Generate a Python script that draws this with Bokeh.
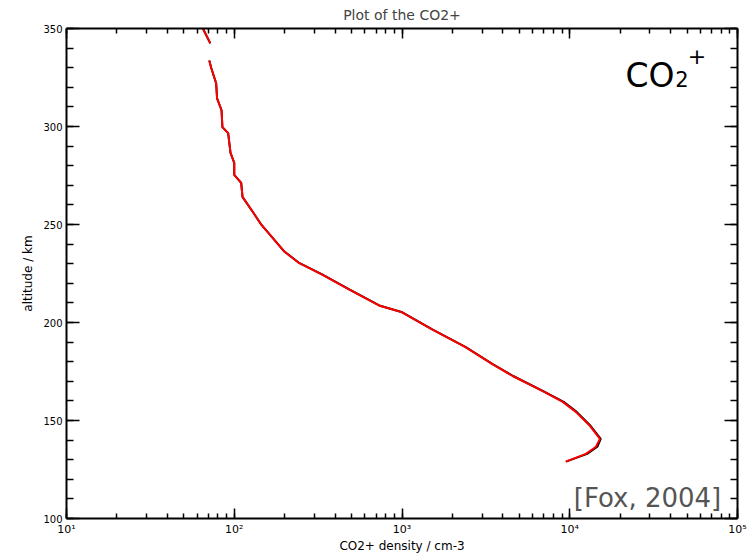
import numpy as np
from bokeh.plotting import figure
from bokeh.models import (Range1d, LogAxis, LinearAxis, SingleIntervalTicker,
                          LogTicker, CustomJSTickFormatter, Label, ColumnDataSource)
from bokeh.embed import file_html
from bokeh.resources import INLINE

nan = float("nan")

# altitude (km) and CO2+ density (cm^-3)
altitude = [350, 342.4, nan, 333.7, 329.7, 322.1, 314.4, 308.3, 299.7, 296.6,
            286.5, 281.4, 275.3, 271.2, 264.1, 256.0, 249.9, 236.2, 230.6, 224.5,
            216.9, 208.7, 205.2, 196.5, 187.4, 178.8, 172.7, 165.0, 159.5, 154.4,
            147.3, 140.6, 136.6, 133.0, 129.0]
density_red = [65, 72, nan, 71, 73, 78, 79, 84, 85, 92,
               95, 100, 100, 110, 112, 130, 145, 199, 241, 332,
               482, 728, 1000, 1510, 2390, 3460, 4560, 6890, 9080, 10860,
               13180, 15130, 14330, 12480, 9460]
density_black = [65, 72, nan, 71, 73, 78, 79, 84, 85, 92,
                 95, 100, 100, 110, 112, 130, 145, 199, 242, 334,
                 485, 732, 1005, 1515, 2400, 3470, 4600, 6950, 9200, 11000,
                 13300, 15300, 14600, 12700, 9500]

x_ticks = [10, 100, 1000, 10000, 100000]
y_ticks = [100, 150, 200, 250, 300, 350]

title_text = "Plot of the CO2+"
x_label = "CO2+ density / cm-3"
y_label = "altitude / km"

FONT = "DejaVu Sans"

p = figure(width=755, height=555, x_axis_type="log",
           x_range=Range1d(10, 1e5), y_range=Range1d(100, 350),
           output_backend="svg", toolbar_location=None,
           min_border_left=66, min_border_right=18,
           min_border_top=28, min_border_bottom=35,
           title=title_text, x_axis_label=x_label, y_axis_label=y_label)

p.title.align = "center"
p.title.vertical_align = "top"
p.title.text_font = FONT
p.title.text_font_size = "14px"
p.title.text_font_style = "normal"
p.title.offset = 0
p.title.standoff = 8

p.xgrid.visible = False
p.ygrid.visible = False
p.outline_line_color = None
p.background_fill_color = "white"
p.border_fill_color = "white"

sup = "const s={'0':'\u2070','1':'\u00b9','2':'\u00b2','3':'\u00b3','4':'\u2074','5':'\u2075','6':'\u2076','7':'\u2077','8':'\u2078','9':'\u2079','-':'\u207b'};"
fmt = CustomJSTickFormatter(code=sup + "const e=Math.round(Math.log10(tick)); return '10'+String(e).split('').map(c=>s[c]).join('');")

xt = LogTicker(desired_num_ticks=5, num_minor_ticks=10)
yt = SingleIntervalTicker(interval=50, num_minor_ticks=5)

def style(ax, tick_in, minor_in):
    ax.axis_line_color = "black"
    ax.axis_line_width = 2
    ax.major_tick_line_color = "black"
    ax.major_tick_line_width = 1.5
    ax.minor_tick_line_color = "black"
    ax.minor_tick_line_width = 1.5
    ax.major_tick_in = tick_in
    ax.major_tick_out = 0
    ax.minor_tick_in = minor_in
    ax.minor_tick_out = 0
    ax.major_label_text_font = FONT
    ax.major_label_text_font_size = "10px"
    ax.major_label_text_color = "black"
    ax.axis_label_text_font = FONT
    ax.axis_label_text_font_size = "12px"
    ax.axis_label_text_font_style = "normal"
    ax.axis_label_text_color = "black"

xa = p.xaxis[0]
xa.ticker = xt
xa.formatter = fmt
style(xa, 10, 5)
xa.major_label_text_font_size = "11px"
xa.major_label_standoff = 4
xa.axis_label_standoff = 0

ya = p.yaxis[0]
ya.ticker = yt
style(ya, 13, 7)
ya.major_label_standoff = 4
ya.axis_label_standoff = 5

top = LogAxis(ticker=LogTicker(desired_num_ticks=5, num_minor_ticks=10))
style(top, 10, 5)
top.major_label_text_font_size = "2px"
top.major_label_text_alpha = 0
top.major_label_standoff = 0
p.add_layout(top, "above")

right = LinearAxis(ticker=SingleIntervalTicker(interval=50, num_minor_ticks=5))
style(right, 13, 7)
right.major_label_text_font_size = "2px"
right.major_label_text_alpha = 0
right.major_label_standoff = 0
p.add_layout(right, "right")

src = ColumnDataSource(dict(alt=altitude, red=density_red, black=density_black))
p.line("black", "alt", source=src, line_color="black", line_width=2)
p.line("red", "alt", source=src, line_color="#ff0000", line_width=2)

# annotations
p.add_layout(Label(x=21500, y=326.0, text="CO", text_font=FONT, text_font_size="33px",
                   text_color="black", text_baseline="alphabetic"))
p.add_layout(Label(x=42500, y=324.0, text="2", text_font=FONT, text_font_size="21px",
                   text_color="black", text_baseline="alphabetic"))
p.add_layout(Label(x=50500, y=336.0, text="+", text_font=FONT, text_font_size="22px",
                   text_color="black", text_baseline="alphabetic"))
p.add_layout(Label(x=80000, y=110.5, text="[Fox, 2004]", text_font=FONT, text_font_size="26px",
                   text_color="#555555", text_align="right", text_baseline="alphabetic"))

open("out.html", "w").write(file_html(p, INLINE))
